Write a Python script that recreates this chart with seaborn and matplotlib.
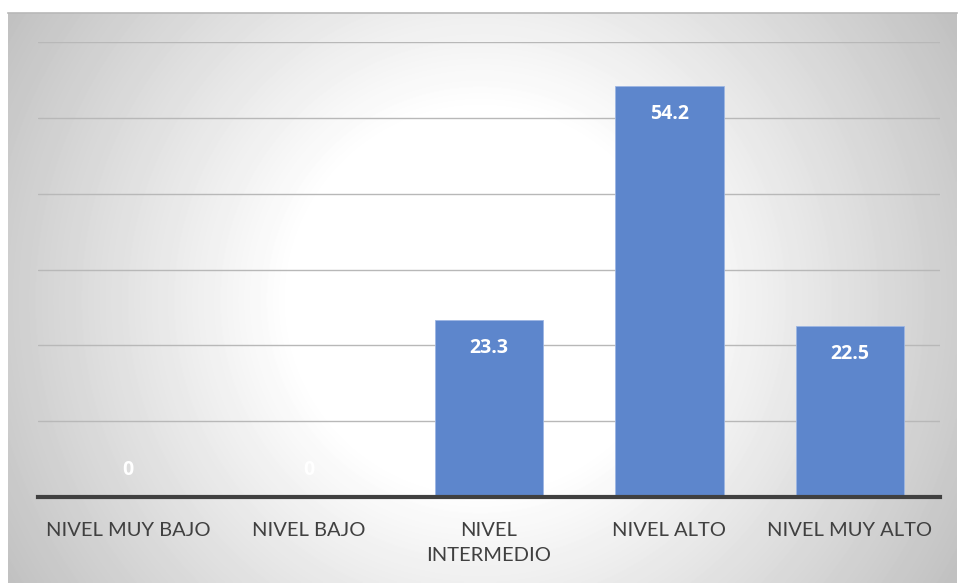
import numpy as np
import pandas as pd
import matplotlib
matplotlib.use("Agg")
import matplotlib.pyplot as plt
import seaborn as sns

categories = ["NIVEL MUY BAJO", "NIVEL BAJO", "NIVEL\nINTERMEDIO", "NIVEL ALTO", "NIVEL MUY ALTO"]
values = [0, 0, 23.3, 54.2, 22.5]
label_texts = ["0", "0", "23.3", "54.2", "22.5"]

sns.set_theme(style="white")
plt.rcParams["font.family"] = ["Lato", "DejaVu Sans"]

W, H = 958, 583
fig = plt.figure(figsize=(W / 100, H / 100), dpi=100)
fig.patch.set_facecolor("white")

# Chart area with a soft radial grey-to-white fill
bx0, by0, bw, bh = 8, 13, 949, 570
bg = fig.add_axes([bx0 / W, 0, bw / W, bh / H], zorder=0)
px, py = np.meshgrid(np.arange(bw), np.arange(bh))
cx, cy = 480 - bx0, 300 - by0
dist = np.hypot(px - cx, py - cy)
shade = 1 - 0.25 * np.clip((dist - 190) / 370, 0, 1)
bg.imshow(shade, cmap="gray", vmin=0, vmax=1, aspect="auto",
          extent=(0, 1, 0, 1), origin="upper", interpolation="bilinear")
bg.set_xticks([])
bg.set_yticks([])
for side in ["left", "right", "bottom"]:
    bg.spines[side].set_visible(False)
bg.spines["top"].set_color("#b8b8b8")
bg.spines["top"].set_linewidth(1.2)

# Plot area
ax = fig.add_axes([38 / W, 86 / H, 902 / W, 455 / H], zorder=1)
ax.patch.set_alpha(0)

df = pd.DataFrame({"categoria": categories, "valor": values})
sns.barplot(data=df, x="categoria", y="valor", color="#5d86cc",
            width=0.6, saturation=1, ax=ax, zorder=3,
            edgecolor="#9db6e3", linewidth=0.6)

ax.set_ylim(0, 60)
ax.set_xlim(-0.5, len(categories) - 0.5)
ax.set_yticks(np.arange(10, 61, 10))
ax.yaxis.grid(True, color="#b8b8b8", linewidth=1.0, zorder=0)
ax.set_axisbelow(True)
ax.tick_params(axis="y", left=False, labelleft=False)
ax.tick_params(axis="x", bottom=False, pad=12, labelsize=14.5, labelcolor="#404040")
for lbl in ax.get_xticklabels():
    lbl.set_linespacing(1.55)
ax.set_xlabel("")
ax.set_ylabel("")
for side in ["left", "right", "top"]:
    ax.spines[side].set_visible(False)
ax.spines["bottom"].set_color("#404040")
ax.spines["bottom"].set_linewidth(3)
ax.spines["bottom"].set_zorder(5)

# Value labels just inside the bar ends
for i, (v, t) in enumerate(zip(values, label_texts)):
    off = -28 if v > 0 else 27
    ax.annotate(t, xy=(i, v), xytext=(0, off), textcoords="offset pixels",
                ha="center", va="center", color="white", fontsize=14,
                fontweight="bold", family=["Open Sans", "DejaVu Sans"], zorder=6)

fig.savefig("out.png", dpi=100)
